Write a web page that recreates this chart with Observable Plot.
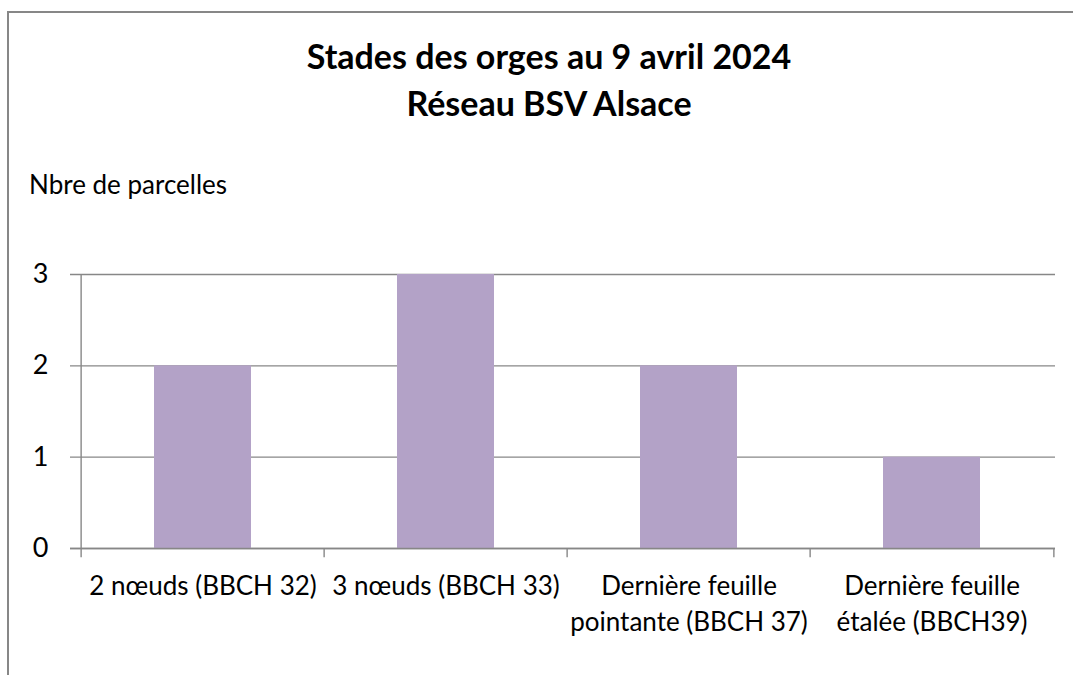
<!DOCTYPE html>
<html>
<head>
<meta charset="utf-8">
<script src="https://cdn.jsdelivr.net/npm/d3@7"></script>
<script src="https://cdn.jsdelivr.net/npm/@observablehq/plot@0.6"></script>
<style>
  html, body { margin: 0; padding: 0; background: #fff; }
  #wrap { position: relative; width: 1073px; height: 675px; overflow: hidden; font-family: Lato, "Open Sans", sans-serif; color: #000; }
  #border { position: absolute; left: 7px; top: 11px; right: -10px; bottom: -10px; border-left: 2px solid #878787; border-top: 2px solid #878787; }
  #title { position: absolute; left: 549px; top: 32px; transform: translateX(-50%); white-space: nowrap; text-align: center; font-weight: bold; font-size: 34px; line-height: 47px; }
  #ylabel { position: absolute; left: 29px; top: 168px; font-size: 26px; line-height: 32px; white-space: nowrap; }
  #chart { position: absolute; left: 0; top: 0; }
</style>
</head>
<body>
<div id="wrap">
  <div id="border"></div>
  <div id="title">Stades des orges au 9 avril 2024<br>Réseau BSV Alsace</div>
  <div id="ylabel">Nbre de parcelles</div>
  <div id="chart"></div>
</div>
<script>
const categories = [
  "2 nœuds (BBCH 32)",
  "3 nœuds (BBCH 33)",
  "Dernière feuille\npointante (BBCH 37)",
  "Dernière feuille\nétalée (BBCH39)"
];
const values = [2, 3, 2, 1];
const yTicks = [0, 1, 2, 3];

const data = categories.map((c, i) => ({stade: c, n: values[i]}));

const plotW = 1073, plotH = 675;
const mLeft = 80, mRight = 18, mTop = 274, mBottom = 127;
const step = (plotW - mLeft - mRight) / categories.length;

const chart = Plot.plot({
  width: plotW,
  height: plotH,
  marginLeft: mLeft,
  marginRight: mRight,
  marginTop: mTop,
  marginBottom: mBottom,
  style: {fontFamily: "Lato, 'Open Sans', sans-serif", color: "#000", background: "transparent", overflow: "visible"},
  x: {domain: categories, paddingInner: 0.6, paddingOuter: 0.3, label: null},
  y: {domain: [0, 3], label: null},
  marks: [
    Plot.ruleY(yTicks, {stroke: "#878787", strokeWidth: 1.4, insetLeft: -10}),
    Plot.barY(data, {x: "stade", y: "n", fill: "#b3a2c7"}),
    Plot.ruleY([0], {stroke: "#878787", strokeWidth: 1.4, insetLeft: -10}),
    Plot.ruleX(categories, {x: d => d, y1: 0, y2: -0.1, dx: -step / 2, stroke: "#878787", strokeWidth: 1.4}),
    Plot.ruleX([categories[categories.length - 1]], {x: d => d, y1: 0, y2: -0.1, dx: step / 2, stroke: "#878787", strokeWidth: 1.4}),
    Plot.ruleX([categories[0]], {x: d => d, y1: 0, y2: 3, dx: -step / 2, stroke: "#878787", strokeWidth: 1.4}),
    Plot.axisY(yTicks, {tickSize: 0, tickPadding: 32, fontSize: 27, tickFormat: d => String(d)}),
    Plot.axisX({tickSize: 0, tickPadding: 22, fontSize: 26, lineHeight: 1.35})
  ]
});
document.getElementById("chart").appendChild(chart);
</script>
</body>
</html>
